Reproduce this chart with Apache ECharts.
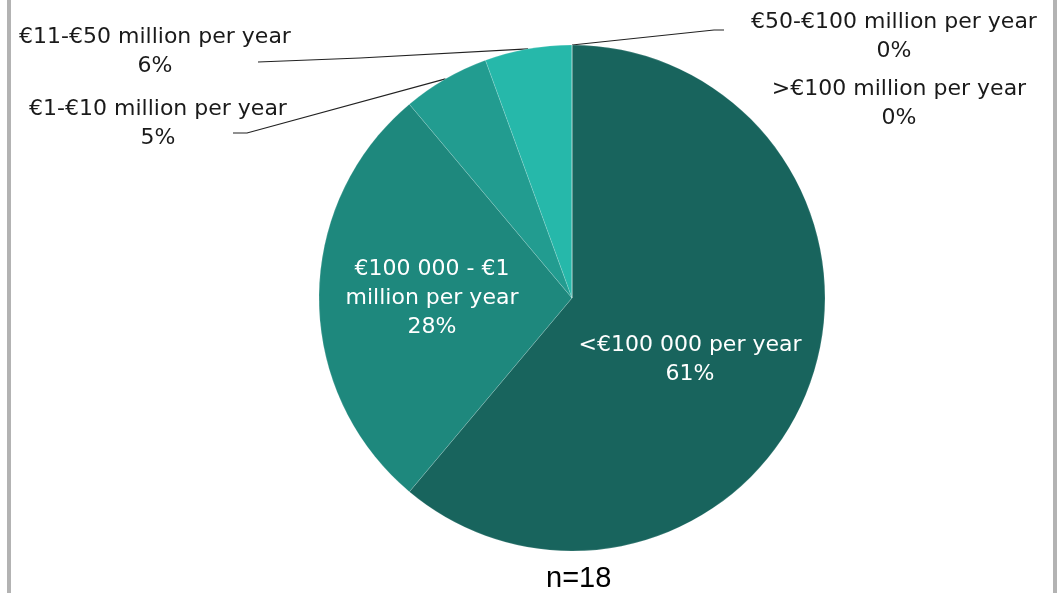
<!DOCTYPE html>
<html>
<head>
<meta charset="utf-8">
<script src="https://cdn.jsdelivr.net/npm/echarts@6/dist/echarts.min.js"></script>
<style>
  html, body { margin: 0; padding: 0; background: #fff; }
  #chart { width: 1063px; height: 593px; }
</style>
</head>
<body>
<div id="chart"></div>
<script>
// revenue bands, in clockwise order from 12 o'clock
var categories = [
  '<€100 000 per year',
  '€100 000 - €1 million per year',
  '€1-€10 million per year',
  '€11-€50 million per year',
  '€50-€100 million per year',
  '>€100 million per year'
];
// respondents per band (n=18)
var counts = [11, 5, 1, 1, 0, 0];
// percentages as printed on the original chart
var pctLabels = ['61%', '28%', '5%', '6%', '0%', '0%'];
var sliceColors = ['#18645d', '#1e887d', '#229c90', '#26b8aa', '#2ccfc0', '#3fe0d0'];

// where each label sits, and how its leader line runs
var labelSpots = [
  { x: 690, y: 360, line: null },
  { x: 432, y: 298, line: null },
  { x: 158, y: 124, line: [[247, 133], [233, 133]] },
  { x: 155, y: 52, line: [[360, 58], [258, 62]] },
  { x: 894, y: 37, line: [[714, 30], [724, 30]] },
  { x: 899, y: 104, line: null }
];

var chart = echarts.init(document.getElementById('chart'));

var pieData = categories.map(function (name, i) {
  var inside = i < 2;
  return {
    name: name,
    value: counts[i],
    itemStyle: { color: sliceColors[i] },
    label: {
      color: inside ? '#ffffff' : '#1a1a1a'
    },
    labelLine: { show: labelSpots[i].line !== null }
  };
});

chart.setOption({
  animation: false,
  title: {
    text: 'n=18',
    left: 541,
    top: 559,
    textStyle: {
      fontFamily: 'Liberation Sans Narrow, Liberation Sans, sans-serif',
      fontWeight: 'normal',
      fontSize: 29,
      color: '#000'
    }
  },
  graphic: [
    { type: 'rect', shape: { x: 7, y: 0, width: 4, height: 593 }, style: { fill: '#b3b3b3' } },
    { type: 'rect', shape: { x: 1053, y: 0, width: 4, height: 593 }, style: { fill: '#b3b3b3' } }
  ],
  series: [{
    type: 'pie',
    center: [572, 298],
    radius: 253,
    startAngle: 90,
    clockwise: true,
    avoidLabelOverlap: false,
    stillShowZeroSum: true,
    minShowLabelAngle: 0,
    data: pieData,
    itemStyle: {
      borderColor: 'rgba(255,255,255,0.25)',
      borderWidth: 0.6
    },
    label: {
      show: true,
      position: 'outside',
      fontFamily: 'DejaVu Sans, sans-serif',
      fontSize: 22,
      lineHeight: 29,
      align: 'center',
      formatter: function (p) {
        var name = p.dataIndex === 1 ? p.name.replace(' million', '\nmillion') : p.name;
        return name + '\n' + pctLabels[p.dataIndex];
      }
    },
    labelLine: {
      show: true,
      length: 10,
      length2: 10,
      lineStyle: { color: '#222', width: 1.2 }
    },
    labelLayout: function (params) {
      var spot = labelSpots[params.dataIndex];
      var out = {
        x: spot.x,
        y: spot.y,
        align: 'center',
        verticalAlign: 'middle'
      };
      if (spot.line && params.labelLinePoints) {
        out.labelLinePoints = [params.labelLinePoints[0]].concat(spot.line);
      }
      return out;
    }
  }]
});
</script>
</body>
</html>
